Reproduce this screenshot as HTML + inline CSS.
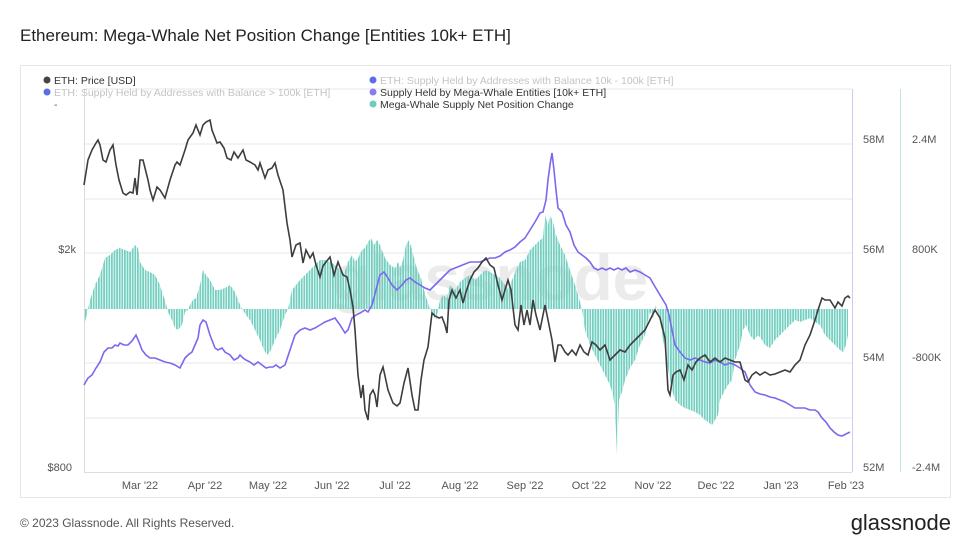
<!DOCTYPE html>
<html><head><meta charset="utf-8"><style>
body{margin:0;background:#fff;font-family:"Liberation Sans",sans-serif;}
svg text{font-family:"Liberation Sans",sans-serif;}
</style></head><body>
<svg width="972" height="548" xmlns="http://www.w3.org/2000/svg">
<defs>
<pattern id="st" patternUnits="userSpaceOnUse" x="85" y="0" width="2.6" height="10">
<rect x="0" y="0" width="1.8" height="10" fill="#74cfc0"/>
</pattern>
</defs>
<rect width="972" height="548" fill="#fff"/>
<text x="20" y="41" font-size="17" fill="#222">Ethereum: Mega-Whale Net Position Change [Entities 10k+ ETH]</text>
<rect x="20.5" y="65.5" width="930" height="432" fill="#fff" stroke="#e6e6e6"/>
<g stroke="#ececec" stroke-width="1.2">
<line x1="84" x2="852" y1="144" y2="144"/><line x1="84" x2="852" y1="199" y2="199"/>
<line x1="84" x2="852" y1="253" y2="253"/><line x1="84" x2="852" y1="363" y2="363"/>
<line x1="84" x2="852" y1="418" y2="418"/><line x1="84" x2="852" y1="89" y2="89"/>
</g>
<line x1="84.5" y1="89" x2="84.5" y2="472" stroke="#ddd"/>
<line x1="84" y1="472.5" x2="852" y2="472.5" stroke="#ddd"/>
<line x1="852.5" y1="89" x2="852.5" y2="472" stroke="#c9ccf5"/>
<line x1="900.5" y1="89" x2="900.5" y2="472" stroke="#bfe8e2"/>
<text x="490" y="300" font-size="64" font-weight="bold" fill="#ebebeb" text-anchor="middle">glassnode</text>
<polygon fill="url(#st)" points="84,309 84,325 86,318 90,300 95,285 100,275 105,258 110,255 115,250 120,248 125,250 130,252 135,245 138,248 140,262 145,270 150,272 155,275 160,285 163,295 165,300 168,312 172,320 175,328 178,330 182,325 185,312 188,310 190,305 193,300 196,298 200,285 203,270 206,275 210,280 215,290 220,290 225,288 230,285 235,292 238,300 242,309 246,315 250,320 255,330 260,340 264,350 267,355 270,352 275,340 280,330 285,315 288,309 292,290 296,285 300,280 305,275 310,270 315,265 320,260 325,260 330,262 335,265 340,270 343,275 346,268 348,262 352,255 355,262 358,258 362,250 365,248 368,242 371,238 374,245 377,240 380,245 385,258 390,265 395,268 398,262 400,268 403,260 406,245 409,240 412,250 415,262 418,272 421,278 424,290 427,300 430,309 433,315 436,320 440,300 443,295 447,298 450,285 455,290 460,282 465,278 470,275 475,280 480,275 485,270 490,272 495,275 500,278 505,285 508,290 512,280 516,270 520,262 525,260 530,250 535,245 540,240 543,238 545,215 548,225 550,215 553,222 556,235 560,245 565,255 570,270 575,285 578,295 582,309 585,330 590,345 595,355 600,365 605,375 610,385 613,395 615,408 617,455 619,400 622,392 625,380 630,368 635,360 640,345 645,335 648,320 650,312 653,318 656,305 660,320 663,340 666,355 669,375 672,390 675,400 680,405 685,408 690,410 695,412 700,415 705,420 708,422 712,425 715,420 718,415 720,400 725,390 728,385 732,380 735,360 740,345 743,330 746,325 750,335 754,340 758,335 762,340 765,345 770,348 775,340 780,335 785,330 790,325 795,320 800,322 805,320 810,318 815,322 820,325 825,335 830,340 835,345 840,350 843,352 846,345 848,335 848,309"/>
<polyline fill="none" stroke="#7b68ee" stroke-width="1.6" points="84,385 88,378 92,375 96,368 100,362 104,352 108,348 112,348 115,345 118,346 120,343 124,345 128,345 132,341 136,335 139,342 142,350 146,355 150,358 155,358 160,360 165,362 170,363 175,365 180,368 185,358 188,355 192,352 195,345 198,338 200,325 203,320 206,322 210,335 215,348 218,350 222,348 225,352 230,355 234,360 238,358 240,355 243,358 246,360 250,362 254,365 258,362 262,365 266,368 270,367 273,367 276,365 280,368 285,365 290,350 295,335 300,330 305,328 310,330 315,328 320,325 325,322 330,320 335,318 340,325 345,333 348,330 352,318 356,315 360,313 365,310 368,312 372,305 376,290 380,275 384,272 388,278 392,285 397,290 402,285 406,280 410,278 415,282 420,285 425,288 430,290 435,285 440,280 445,275 450,270 460,266 470,262 480,262 485,260 490,258 495,258 500,256 505,252 510,250 515,247 520,242 525,238 530,230 535,222 540,213 543,212 546,200 548,180 550,165 552,153 554,170 556,190 558,208 562,212 566,225 570,232 574,245 578,252 582,255 586,258 590,262 594,268 598,270 602,268 606,270 610,268 614,270 618,268 622,270 626,268 630,272 635,270 640,272 645,275 650,278 654,285 657,290 660,295 663,300 666,305 669,315 672,330 675,345 680,352 685,358 690,360 695,358 700,360 705,362 710,363 715,360 720,362 725,365 730,363 735,365 740,368 745,372 750,385 755,392 760,394 765,395 770,397 775,398 780,400 785,402 790,405 795,408 800,408 805,408 810,410 815,410 818,412 822,418 826,422 830,428 834,432 838,435 842,436 846,434 850,432"/>
<polyline fill="none" stroke="#3d3d3d" stroke-width="1.6" points="84,185 88,160 92,150 96,143 98,140 100,145 103,160 106,162 110,150 113,145 116,165 119,180 123,193 126,195 130,192 133,193 135,178 137,195 140,160 143,160 145,168 148,180 150,190 153,200 157,187 160,190 165,198 170,180 175,165 177,162 180,165 185,150 188,140 193,133 196,125 200,135 203,125 206,122 210,120 212,130 217,143 220,142 224,148 227,158 231,160 234,152 238,158 243,150 246,160 250,162 255,165 258,170 260,163 265,178 268,170 272,168 275,163 278,175 283,190 287,223 290,240 292,257 296,245 300,243 303,263 306,250 310,258 313,253 316,265 320,277 323,266 326,262 330,257 334,275 338,262 343,275 347,277 350,290 353,307 355,330 358,375 361,398 363,385 365,410 368,420 370,395 373,390 375,395 377,407 380,375 383,367 385,376 388,390 393,403 397,406 400,403 404,383 408,368 412,395 415,410 418,410 421,380 424,360 428,347 432,313 435,316 439,318 442,317 445,325 447,333 449,300 452,290 456,298 460,290 463,303 466,292 470,280 474,272 478,268 482,262 486,258 490,265 494,268 498,285 502,300 505,290 508,280 511,290 515,325 518,330 521,305 524,325 527,310 530,325 533,300 536,315 540,330 545,305 548,320 552,340 555,362 558,345 561,345 565,352 568,355 572,350 576,355 580,345 584,352 588,355 592,342 596,345 600,350 605,345 610,360 615,355 620,350 625,352 630,345 635,340 640,335 645,330 650,320 655,310 660,318 665,338 668,390 670,395 673,375 676,372 680,370 684,380 688,365 692,370 696,362 700,358 705,355 710,362 715,358 720,362 725,358 730,360 735,362 740,362 745,380 748,382 752,375 756,372 760,375 765,372 770,375 775,374 780,372 785,370 790,372 795,365 800,360 805,345 810,335 815,320 818,310 822,298 825,300 830,300 835,308 838,302 842,306 845,298 848,296 850,298"/>
<g font-size="11" fill="#555">
<text x="76" y="253" text-anchor="end">$2k</text>
<text x="72" y="471" text-anchor="end">$800</text>
<text x="863" y="143">58M</text><text x="863" y="253">56M</text><text x="863" y="361">54M</text><text x="863" y="471">52M</text>
<text x="912" y="143">2.4M</text><text x="912" y="253">800K</text><text x="912" y="361">-800K</text><text x="912" y="471">-2.4M</text>
<text x="140" y="489" text-anchor="middle">Mar '22</text><text x="205" y="489" text-anchor="middle">Apr '22</text>
<text x="268" y="489" text-anchor="middle">May '22</text><text x="332" y="489" text-anchor="middle">Jun '22</text>
<text x="395" y="489" text-anchor="middle">Jul '22</text><text x="460" y="489" text-anchor="middle">Aug '22</text>
<text x="525" y="489" text-anchor="middle">Sep '22</text><text x="589" y="489" text-anchor="middle">Oct '22</text>
<text x="653" y="489" text-anchor="middle">Nov '22</text><text x="716" y="489" text-anchor="middle">Dec '22</text>
<text x="781" y="489" text-anchor="middle">Jan '23</text><text x="846" y="489" text-anchor="middle">Feb '23</text>
</g>
<g font-size="10.5">
<circle cx="47" cy="80" r="3.5" fill="#444"/><text x="54" y="84" fill="#333">ETH: Price [USD]</text>
<circle cx="47" cy="92" r="3.5" fill="#5b6ee8"/><text x="54" y="96" fill="#c4c4c4">ETH: Supply Held by Addresses with Balance &gt; 100k [ETH]</text>
<text x="54" y="108" fill="#555">-</text>
<circle cx="373" cy="80" r="3.5" fill="#5b6ee8"/><text x="380" y="84" fill="#c4c4c4">ETH: Supply Held by Addresses with Balance 10k - 100k [ETH]</text>
<circle cx="373" cy="92" r="3.5" fill="#8a7cf0"/><text x="380" y="96" fill="#333">Supply Held by Mega-Whale Entities [10k+ ETH]</text>
<circle cx="373" cy="104" r="3.5" fill="#6fcbbd"/><text x="380" y="108" fill="#333">Mega-Whale Supply Net Position Change</text>
</g>
<text x="20" y="527" font-size="12" fill="#555">© 2023 Glassnode. All Rights Reserved.</text>
<text x="951" y="530" font-size="22" fill="#222" text-anchor="end">glassnode</text>
</svg>
</body></html>
